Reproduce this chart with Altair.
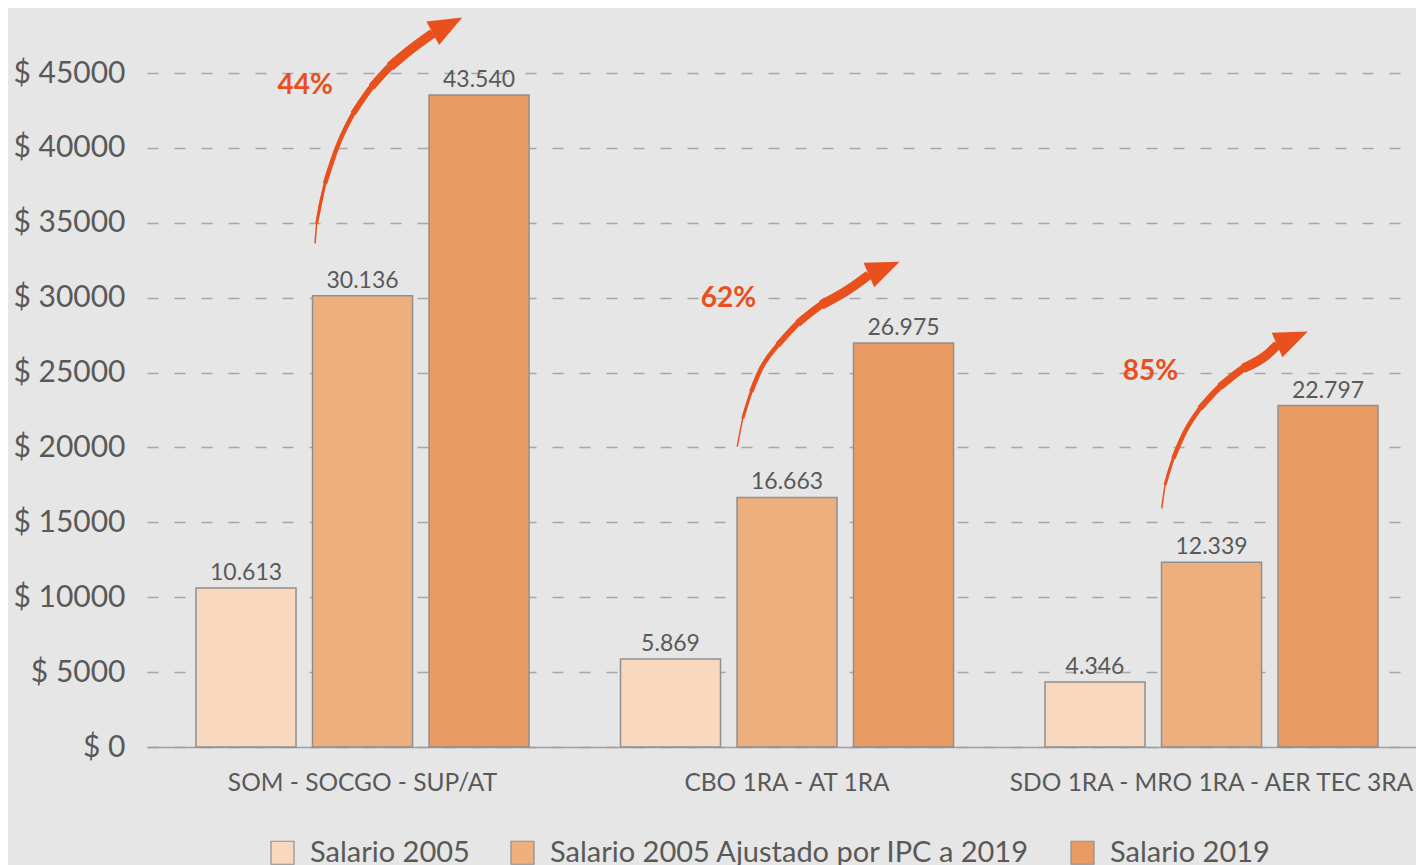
import altair as alt
import pandas as pd

# ---------------- data ----------------
groups = ["SOM - SOCGO - SUP/AT", "CBO 1RA - AT 1RA", "SDO 1RA - MRO 1RA - AER TEC 3RA"]
series = ["Salario 2005", "Salario 2005 Ajustado por IPC a 2019", "Salario 2019"]
salario_2005 = [10613, 5869, 4346]
salario_2005_ajustado = [30136, 16663, 12339]
salario_2019 = [43540, 26975, 22797]
colors = ["#f8d8be", "#eeaf7f", "#ea9a63"]

pct_labels = ["44%", "62%", "85%"]
pct_dx = [-0.135, -0.138, -0.144]          # offset from group centre (in band steps)
pct_value = [44115, 29913, 25038]          # height in $ units

# arrow curves: offset from group centre (band steps) and height ($)
arrow_dx = [
    [-0.1119, -0.1079, -0.0883, -0.0608, -0.0217, 0.0217, 0.0648, 0.1119, 0.1654],
    [-0.1173, -0.1041, -0.0843, -0.0608, -0.0217, 0.0254, 0.0806, 0.1432, 0.1927],
    [-0.1173, -0.1095, -0.0900, -0.0624, -0.0271, 0.0200, 0.0749, 0.1300, 0.1555],
]
arrow_value = [
    [33630, 34965, 37636, 39973, 42310, 44086, 45421, 46536, 47650],
    [20050, 21946, 23722, 25284, 26840, 28289, 29511, 30512, 31514],
    [15937, 17493, 19275, 21051, 22614, 24056, 25284, 26172, 26860],
]
head_dx = [0.2002, 0.2290, 0.1906]
head_value = [48185, 31958, 27294]
head_angle = [331.6, 336.6, 336.4]
# tapering: (first point index of the stroke, stroke width)
taper = [(0, 1.5), (1, 3.0), (2, 4.5), (4, 6.0), (5, 7.5), (6, 9.5)]

# ---------------- layout helpers ----------------
W, H = 1269, 739
Y_MAX = 49343
PI, PO, ALIGN = 0.2155, 0.10245, 0.5634
total_steps = len(groups) - PI + 2 * PO
first_start = 2 * PO * ALIGN
centres = [first_start + i + (1 - PI) / 2 for i in range(len(groups))]

rows = []
for s, vals in zip(series, [salario_2005, salario_2005_ajustado, salario_2019]):
    for g, v in zip(groups, vals):
        rows.append({"group": g, "series": s, "value": v,
                     "label": f"{v:,}".replace(",", ".")})
bars_df = pd.DataFrame(rows)

line_rows = []
for i in range(len(groups)):
    for k, (start, sw) in enumerate(taper):
        for j in range(start, len(arrow_dx[i])):
            line_rows.append({"stroke_id": f"{i}-{k}", "seq": j,
                              "ax": centres[i] + arrow_dx[i][j],
                              "value": arrow_value[i][j], "sw": sw})
line_df = pd.DataFrame(line_rows)

head_df = pd.DataFrame({"ax": [c + d for c, d in zip(centres, head_dx)],
                        "value": head_value, "ang": head_angle})
pct_df = pd.DataFrame({"ax": [c + d for c, d in zip(centres, pct_dx)],
                       "value": pct_value, "txt": pct_labels})

ARROW = "#e8501e"
FONT = "Lato"
GREY_TXT = "#595959"

y_scale = alt.Scale(domain=[0, Y_MAX], nice=False, zero=True)
y_axis = alt.Axis(title=None, values=list(range(0, 45001, 5000)),
                  labelExpr="'$ ' + datum.value", labelFontSize=30,
                  labelColor=GREY_TXT, labelFont=FONT, labelPadding=22,
                  ticks=False, domain=False, grid=True, gridDash=[11, 16],
                  gridColor="#a6a6a6", gridWidth=1.3)
x_band = alt.X("group:N", sort=groups,
               scale=alt.Scale(paddingInner=PI, paddingOuter=PO, align=ALIGN, round=False),
               axis=alt.Axis(title=None, labelAngle=0, labelFontSize=24.5, labelColor=GREY_TXT,
                             labelFont=FONT, ticks=False, domain=True, domainColor="#a0a0a0",
                             domainWidth=1.5, labelPadding=43, labelBaseline="alphabetic",
                             labelLimit=700, grid=False))
x_off = alt.XOffset("series:N", sort=series,
                    scale=alt.Scale(paddingInner=0.1416, paddingOuter=0))

bars = alt.Chart(bars_df).mark_bar(stroke="#8f8f8f", strokeWidth=1.5).encode(
    x=x_band,
    xOffset=x_off,
    y=alt.Y("value:Q", scale=y_scale, axis=y_axis),
    color=alt.Color("series:N", sort=series,
                    scale=alt.Scale(domain=series, range=colors),
                    legend=alt.Legend(orient="none", legendX=121, legendY=830,
                                      direction="horizontal", title=None,
                                      symbolType="square", symbolSize=529,
                                      symbolStrokeColor="#8f8f8f", symbolStrokeWidth=1.2,
                                      symbolOpacity=1, labelFontSize=29, labelFont=FONT,
                                      labelColor=GREY_TXT, labelOffset=13,
                                      columnPadding=38, padding=0, labelLimit=700)),
)

labels = alt.Chart(bars_df).mark_text(fontSize=23, font=FONT, color=GREY_TXT,
                                       baseline="alphabetic", dy=-8).encode(
    x=alt.X("group:N", sort=groups),
    xOffset=alt.XOffset("series:N", sort=series),
    y=alt.Y("value:Q", scale=y_scale, axis=y_axis),
    text="label:N",
)

base_layer = alt.layer(bars, labels)

x_q = alt.X("ax:Q", scale=alt.Scale(domain=[0, total_steps], nice=False, zero=False), axis=None)
y_q = alt.Y("value:Q", scale=y_scale, axis=y_axis)

curves = alt.Chart(line_df).mark_line(color=ARROW, interpolate="monotone",
                                      strokeCap="butt").encode(
    x=x_q,
    y=y_q,
    strokeWidth=alt.StrokeWidth("sw:Q", scale=None, legend=None),
    detail="stroke_id:N",
    order="seq:Q",
)

heads = alt.Chart(head_df).mark_point(
    shape="M -1 -0.8 L 1 0 L -1 0.8 Z", filled=True, size=1120, color=ARROW, opacity=1
).encode(
    x=x_q,
    y=y_q,
    angle=alt.Angle("ang:Q", scale=None),
)

pct = alt.Chart(pct_df).mark_text(fontSize=28, font=FONT, fontWeight="bold",
                                  color=ARROW).encode(
    x=x_q,
    y=y_q,
    text="txt:N",
)

annot = alt.layer(curves, heads, pct)

chart = alt.layer(base_layer, annot).resolve_scale(x="independent").properties(
    width=W, height=H,
    autosize=alt.AutoSizeParams(type="none"),
    padding={"left": 139, "top": 0, "right": 0, "bottom": 118},
).configure(
    background="#e6e6e6", font=FONT
).configure_view(stroke=None)

chart.save("out.html", embed_options={"renderer": "svg", "actions": False})
